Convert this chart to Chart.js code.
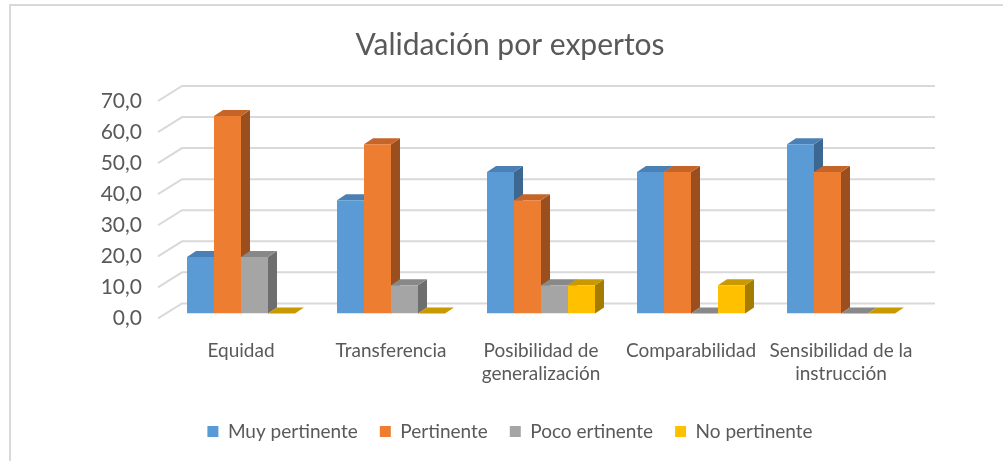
<!DOCTYPE html>
<html>
<head>
<meta charset="utf-8">
<script src="https://cdn.jsdelivr.net/npm/chart.js@4"></script>
<style>
  body { margin: 0; background: #fff; }
  #wrap { position: relative; width: 1003px; height: 461px; overflow: hidden; }
  #frame { position: absolute; left: 9px; top: 4px; width: 1000px; height: 470px;
    border-top: 2px solid #d9d9d9; border-left: 2px solid #d9d9d9; }
  canvas { position: absolute; left: 0; top: 0; }
</style>
</head>
<body>
<div id="wrap">
  <div id="frame"></div>
  <canvas id="chart" width="1003" height="461"></canvas>
</div>
<script>
const categories = [['Equidad'], ['Transferencia'], ['Posibilidad de', 'generalización'],
  ['Comparabilidad'], ['Sensibilidad de la', 'instrucción']];
const muyPertinente = [18.2, 36.4, 45.5, 45.5, 54.5];
const pertinente = [63.6, 54.5, 36.4, 45.5, 45.5];
const pocoPertinente = [18.2, 9.1, 9.1, 0, 0];
const noPertinente = [0, 0, 9.1, 9.1, 0];
const yTicks = [0, 10, 20, 30, 40, 50, 60, 70];

const seriesNames = ['Muy pertinente', 'Pertinente', 'Poco ertinente', 'No pertinente'];
const frontColors = ['#5b9bd5', '#ed7d31', '#a5a5a5', '#ffc000'];
const topColors = ['#4a80b4', '#c5652a', '#888888', '#c99a00'];
const sideColors = ['#3b6791', '#9c4f1e', '#6e6e6e', '#a37c00'];

const DX = 9, DY = 6;

// fake 3d: back wall grid + bar tops/sides, drawn before the bar fronts
const excel3d = {
  id: 'excel3d',
  beforeDatasetsDraw(chart) {
    const ctx = chart.ctx;
    const area = chart.chartArea;
    const y = chart.scales.y;
    ctx.save();
    ctx.strokeStyle = '#d9d9d9';
    ctx.lineWidth = 2;
    yTicks.forEach(v => {
      const p = y.getPixelForValue(v);
      ctx.beginPath();
      ctx.moveTo(area.left - 8, p + 5);
      ctx.lineTo(area.left + 16, p - 10);
      ctx.lineTo(area.right + 19, p - 10);
      ctx.stroke();
    });
    const n = chart.data.labels.length;
    for (let i = 0; i < n; i++) {
      chart.data.datasets.forEach((ds, d) => {
        const bar = chart.getDatasetMeta(d).data[i];
        const p = bar.getProps(['x', 'y', 'base', 'width'], true);
        const l = p.x - p.width / 2, r = p.x + p.width / 2;
        // side
        ctx.fillStyle = sideColors[d];
        ctx.beginPath();
        ctx.moveTo(r, p.base);
        ctx.lineTo(r, p.y);
        ctx.lineTo(r + DX, p.y - DY);
        ctx.lineTo(r + DX, p.base - DY);
        ctx.closePath();
        ctx.fill();
        // top
        ctx.fillStyle = topColors[d];
        ctx.beginPath();
        ctx.moveTo(l, p.y);
        ctx.lineTo(r, p.y);
        ctx.lineTo(r + DX, p.y - DY);
        ctx.lineTo(l + DX, p.y - DY);
        ctx.closePath();
        ctx.fill();
      });
    }
    ctx.restore();
  }
};

const data = {
  labels: categories,
  datasets: [muyPertinente, pertinente, pocoPertinente, noPertinente].map((vals, d) => ({
    label: seriesNames[d],
    data: vals,
    backgroundColor: frontColors[d],
    borderWidth: 0,
    categoryPercentage: 0.72,
    barPercentage: 1.0
  }))
};

const options = {
  responsive: false,
  animation: false,
  layout: { padding: { left: 17, right: 0, top: 0, bottom: 10 } },
  plugins: {
    tooltip: { enabled: false },
    title: {
      display: true,
      text: 'Validación por expertos',
      color: '#595959',
      font: { family: 'Lato', size: 30, weight: 'normal' },
      padding: { top: 27, bottom: 33 }
    },
    legend: {
      position: 'bottom',
      labels: {
        color: '#595959',
        font: { family: 'Lato', size: 19 },
        boxWidth: 11,
        boxHeight: 11,
        padding: 22
      }
    }
  },
  scales: {
    x: {
      grid: { display: false },
      border: { display: false },
      ticks: {
        color: '#595959',
        font: { family: 'Lato', size: 19 },
        padding: 18,
        maxRotation: 0,
        autoSkip: false
      },
      afterFit: s => { s.height -= 3; }
    },
    y: {
      min: 0,
      max: 70,
      grid: { display: false },
      border: { display: false },
      afterFit: s => { s.width = 149; },
      ticks: {
        stepSize: 10,
        color: '#595959',
        font: { family: 'Lato', size: 21 },
        padding: 16,
        labelOffset: 5,
        callback: v => v.toFixed(1).replace('.', ',')
      }
    },
    // empty right axis, keeps the plot where it sits in the original
    spacer: {
      type: 'linear',
      position: 'right',
      grid: { display: false },
      border: { display: false },
      ticks: { display: false },
      afterFit: s => { s.width = 87; }
    }
  }
};

new Chart(document.getElementById('chart'), {
  type: 'bar',
  data,
  options,
  plugins: [excel3d]
});
</script>
</body>
</html>
